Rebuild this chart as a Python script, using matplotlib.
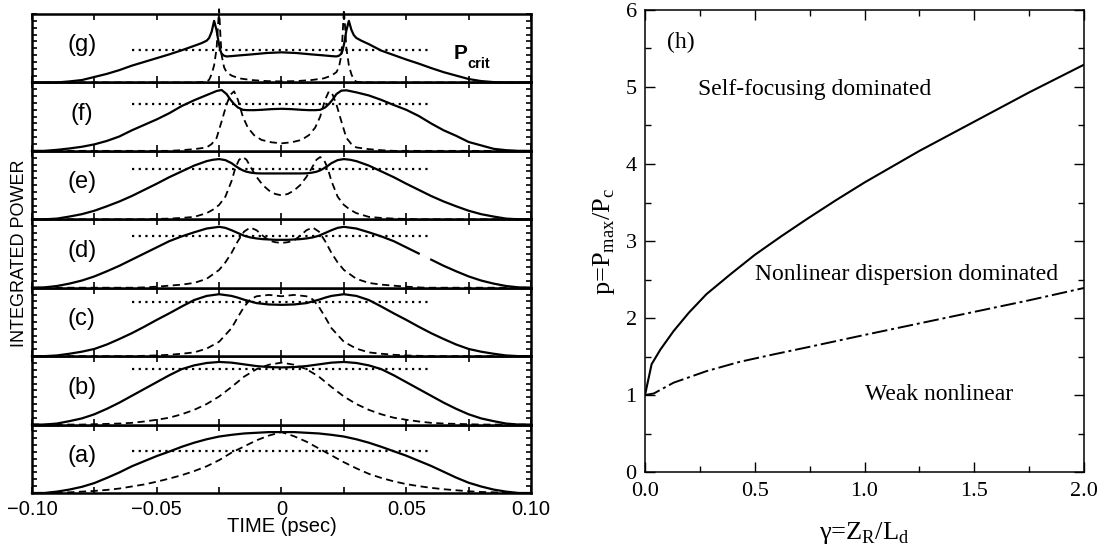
import numpy as np
import matplotlib
matplotlib.use("Agg")
import matplotlib.pyplot as plt
from matplotlib.ticker import FixedLocator, FixedFormatter, MultipleLocator, FormatStrFormatter

nan = np.nan

# ---------- panels (a)-(g): integrated power vs time ----------
panel_names = ["(a)", "(b)", "(c)", "(d)", "(e)", "(f)", "(g)"]
pcrit_level = [0.62, 0.816, 0.79, 0.755, 0.735, 0.68, 0.48]
pcrit_time = [-0.06, 0.06]
time_ticks = [-0.10, -0.075, -0.05, -0.025, 0.0, 0.025, 0.05, 0.075, 0.10]
time_tick_labels = ["\u22120.10", "", "\u22120.05", "", "0", "", "0.05", "", "0.10"]

t_ab = [-0.100, -0.095, -0.090, -0.085, -0.080, -0.075, -0.070, -0.065, -0.060, -0.055,
        -0.050, -0.045, -0.040, -0.035, -0.030, -0.025, -0.020, -0.015, -0.010, -0.005,
        0.000, 0.005, 0.010, 0.015, 0.020, 0.025, 0.030, 0.035, 0.040, 0.045, 0.050,
        0.055, 0.060, 0.065, 0.070, 0.075, 0.080, 0.085, 0.090, 0.095, 0.100]
solid_a = [0.0, 0.0, 0.02, 0.05, 0.09, 0.145, 0.22, 0.30, 0.39, 0.465,
           0.54, 0.605, 0.675, 0.735, 0.785, 0.825, 0.85, 0.87, 0.88, 0.89,
           0.89, 0.89, 0.88, 0.87, 0.85, 0.825, 0.785, 0.735, 0.675, 0.61, 0.545,
           0.47, 0.395, 0.31, 0.225, 0.15, 0.095, 0.05, 0.02, 0.0, 0.0]
dashed_a = [0.0, 0.0, 0.005, 0.01, 0.02, 0.03, 0.045, 0.065, 0.095, 0.125,
            0.165, 0.21, 0.26, 0.32, 0.39, 0.48, 0.59, 0.68, 0.77, 0.84,
            0.89, 0.83, 0.75, 0.65, 0.55, 0.45, 0.36, 0.28, 0.22, 0.17, 0.13,
            0.10, 0.075, 0.055, 0.04, 0.025, 0.015, 0.01, 0.005, 0.0, 0.0]
solid_b = [0.0, 0.0, 0.015, 0.05, 0.09, 0.15, 0.23, 0.32, 0.42, 0.52,
           0.62, 0.72, 0.81, 0.865, 0.90, 0.915, 0.905, 0.88, 0.855, 0.84,
           0.835, 0.84, 0.855, 0.88, 0.905, 0.915, 0.90, 0.865, 0.81, 0.72, 0.62,
           0.52, 0.42, 0.32, 0.23, 0.15, 0.09, 0.05, 0.015, 0.0, 0.0]
dashed_b = [0.0, 0.0, 0.0, 0.0, 0.0, 0.005, 0.01, 0.015, 0.025, 0.045,
            0.07, 0.10, 0.15, 0.215, 0.30, 0.41, 0.55, 0.70, 0.81, 0.875,
            0.905, 0.875, 0.81, 0.70, 0.55, 0.41, 0.30, 0.215, 0.15, 0.10, 0.07,
            0.045, 0.025, 0.015, 0.01, 0.005, 0.0, 0.0, 0.0, 0.0, 0.0]

t_c = [-0.100, -0.095, -0.090, -0.085, -0.080, -0.075, -0.070, -0.065, -0.060, -0.055,
       -0.050, -0.045, -0.040, -0.035, -0.030, -0.025, -0.020, -0.0175, -0.015, -0.0125,
       -0.010, -0.005, 0.000, 0.005, 0.010, 0.0125, 0.015, 0.0175, 0.020, 0.025,
       0.030, 0.035, 0.040, 0.045, 0.050, 0.055, 0.060, 0.065, 0.070, 0.075,
       0.080, 0.085, 0.090, 0.095, 0.100]
solid_c = [0.0, 0.0, 0.01, 0.035, 0.065, 0.105, 0.17, 0.25, 0.335, 0.43,
           0.53, 0.625, 0.725, 0.82, 0.88, 0.905, 0.88, 0.855, 0.825, 0.80,
           0.775, 0.755, 0.75, 0.755, 0.775, 0.80, 0.825, 0.855, 0.88, 0.905,
           0.88, 0.82, 0.725, 0.625, 0.53, 0.43, 0.335, 0.25, 0.17, 0.105,
           0.065, 0.035, 0.01, 0.0, 0.0]
dashed_c = [0.0, 0.0, 0.0, 0.0, 0.0, 0.0, 0.0, 0.0, 0.0, 0.005,
            0.01, 0.02, 0.035, 0.055, 0.11, 0.21, 0.41, 0.57, 0.72, 0.83,
            0.875, 0.895, 0.875, 0.895, 0.875, 0.83, 0.72, 0.57, 0.41, 0.21,
            0.11, 0.055, 0.035, 0.02, 0.01, 0.005, 0.0, 0.0, 0.0, 0.0,
            0.0, 0.0, 0.0, 0.0, 0.0]

t_d = [-0.100, -0.095, -0.090, -0.085, -0.080, -0.075, -0.070, -0.065, -0.060, -0.055,
       -0.050, -0.045, -0.040, -0.035, -0.030, -0.025, -0.0225, -0.020, -0.0175, -0.015,
       -0.0125, -0.010, -0.0075, -0.005, -0.0025, 0.000, 0.0025, 0.005, 0.0075, 0.010,
       0.0125, 0.015, 0.0175, 0.020, 0.0225, 0.025, 0.030, 0.035, 0.040, 0.045,
       0.050, 0.055, 0.0575, 0.060, 0.065, 0.070, 0.075, 0.080, 0.085, 0.090,
       0.095, 0.100]
solid_d = [0.0, 0.005, 0.025, 0.06, 0.105, 0.165, 0.24, 0.32, 0.41, 0.50,
           0.59, 0.68, 0.75, 0.81, 0.865, 0.89, 0.875, 0.84, 0.80, 0.76,
           0.735, 0.72, 0.71, 0.705, 0.70, 0.70, 0.70, 0.705, 0.71, 0.72,
           0.735, 0.76, 0.80, 0.84, 0.875, 0.89, 0.865, 0.81, 0.75, 0.68,
           0.59, 0.50, nan, 0.41, 0.32, 0.24, 0.165, 0.105, 0.06, 0.025,
           0.005, 0.0]
dashed_d = [0.0, 0.0, 0.0, 0.0, 0.0, 0.0, 0.0, 0.0, 0.0, 0.005,
            0.015, 0.03, 0.045, 0.07, 0.13, 0.26, 0.37, 0.51, 0.68, 0.82,
            0.88, 0.84, 0.76, 0.69, 0.665, 0.655, 0.665, 0.69, 0.76, 0.84,
            0.88, 0.82, 0.68, 0.51, 0.37, 0.26, 0.13, 0.07, 0.045, 0.03,
            0.015, 0.005, 0.0, 0.0, 0.0, 0.0, 0.0, 0.0, 0.0, 0.0,
            0.0, 0.0]

t_e = [-0.100, -0.095, -0.090, -0.085, -0.080, -0.075, -0.070, -0.065, -0.060, -0.055,
       -0.050, -0.045, -0.040, -0.035, -0.030, -0.0275, -0.025, -0.0225, -0.020, -0.0185,
       -0.017, -0.0155, -0.014, -0.012, -0.010, -0.0075, -0.005, -0.0025, 0.000,
       0.0025, 0.005, 0.0075, 0.010, 0.012, 0.014, 0.0155, 0.017, 0.0185, 0.020,
       0.0225, 0.025, 0.0275, 0.030, 0.035, 0.040, 0.045, 0.050, 0.055, 0.060,
       0.065, 0.070, 0.075, 0.080, 0.085, 0.090, 0.095, 0.100]
solid_e = [0.0, 0.0, 0.01, 0.04, 0.075, 0.125, 0.19, 0.26, 0.34, 0.43,
           0.52, 0.615, 0.70, 0.785, 0.85, 0.87, 0.88, 0.865, 0.82, 0.78,
           0.745, 0.715, 0.695, 0.68, 0.672, 0.67, 0.67, 0.67, 0.67,
           0.67, 0.67, 0.67, 0.672, 0.68, 0.695, 0.715, 0.745, 0.78, 0.82,
           0.865, 0.88, 0.87, 0.85, 0.785, 0.70, 0.615, 0.52, 0.43, 0.34,
           0.26, 0.19, 0.125, 0.075, 0.04, 0.01, 0.0, 0.0]
dashed_e = [0.0, 0.0, 0.0, 0.0, 0.0, 0.0, 0.0, 0.0, 0.0, 0.0,
            0.005, 0.01, 0.02, 0.035, 0.09, 0.14, 0.21, 0.33, 0.56, 0.75,
            0.87, 0.91, 0.87, 0.74, 0.62, 0.50, 0.42, 0.37, 0.35,
            0.37, 0.42, 0.50, 0.62, 0.74, 0.87, 0.91, 0.87, 0.75, 0.56,
            0.33, 0.21, 0.14, 0.09, 0.035, 0.02, 0.01, 0.005, 0.0, 0.0,
            0.0, 0.0, 0.0, 0.0, 0.0, 0.0, 0.0, 0.0]

t_f = [-0.100, -0.095, -0.090, -0.085, -0.080, -0.075, -0.070, -0.065, -0.060, -0.055,
       -0.050, -0.045, -0.040, -0.035, -0.030, -0.028, -0.026, -0.024, -0.022, -0.0205,
       -0.019, -0.0175, -0.0155, -0.0135, -0.011, -0.008, -0.004, 0.000,
       0.004, 0.008, 0.011, 0.0135, 0.0155, 0.0175, 0.019, 0.0205, 0.022, 0.024,
       0.026, 0.028, 0.030, 0.035, 0.040, 0.045, 0.050, 0.055, 0.060, 0.065,
       0.070, 0.075, 0.080, 0.085, 0.090, 0.095, 0.100]
solid_f = [0.0, 0.0, 0.015, 0.035, 0.06, 0.095, 0.145, 0.21, 0.30, 0.38,
           0.46, 0.55, 0.655, 0.74, 0.815, 0.845, 0.875, 0.89, 0.83, 0.75,
           0.685, 0.635, 0.60, 0.595, 0.595, 0.60, 0.61, 0.615,
           0.61, 0.60, 0.595, 0.595, 0.60, 0.635, 0.685, 0.75, 0.83, 0.88,
           0.885, 0.87, 0.855, 0.81, 0.745, 0.67, 0.60, 0.51, 0.40, 0.30,
           0.22, 0.13, 0.08, 0.03, 0.01, 0.0, 0.0]
dashed_f = [0.0, 0.0, 0.0, 0.0, 0.0, 0.0, 0.0, 0.0, 0.0, 0.0,
            0.0, 0.0, 0.01, 0.025, 0.05, 0.10, 0.19, 0.43, 0.68, 0.82,
            0.87, 0.75, 0.50, 0.34, 0.23, 0.16, 0.125, 0.11,
            0.125, 0.16, 0.23, 0.34, 0.50, 0.75, 0.87, 0.82, 0.68, 0.43,
            0.19, 0.10, 0.05, 0.025, 0.01, 0.0, 0.0, 0.0, 0.0, 0.0,
            0.0, 0.0, 0.0, 0.0, 0.0, 0.0, 0.0]

t_g = [-0.100, -0.095, -0.090, -0.085, -0.080, -0.075, -0.070, -0.065, -0.060, -0.055,
       -0.050, -0.045, -0.040, -0.035, -0.032, -0.030, -0.029, -0.028, -0.027, -0.026,
       -0.0255, -0.025, -0.0245, -0.024, -0.023, -0.022, -0.020, -0.017, -0.012, -0.006,
       0.000,
       0.006, 0.012, 0.017, 0.020, 0.022, 0.023, 0.024, 0.0245, 0.025, 0.0255,
       0.026, 0.027, 0.028, 0.029, 0.030, 0.032, 0.035, 0.040, 0.045, 0.050,
       0.055, 0.060, 0.065, 0.070, 0.075, 0.080, 0.085, 0.090, 0.095, 0.100]
solid_g = [0.0, 0.0, 0.0, 0.015, 0.035, 0.08, 0.125, 0.18, 0.245, 0.30,
           0.355, 0.41, 0.47, 0.535, 0.575, 0.61, 0.65, 0.74, 0.90, 0.76,
           0.65, 0.55, 0.47, 0.42, 0.39, 0.38, 0.385, 0.395, 0.41, 0.43,
           0.44,
           0.43, 0.41, 0.395, 0.385, 0.38, 0.39, 0.42, 0.47, 0.55, 0.65,
           0.76, 0.90, 0.77, 0.69, 0.65, 0.61, 0.56, 0.465, 0.40, 0.335,
           0.275, 0.21, 0.15, 0.10, 0.05, 0.02, 0.005, 0.0, 0.0, 0.0]
dashed_g = [0.0, 0.0, 0.0, 0.0, 0.0, 0.0, 0.0, 0.0, 0.0, 0.0,
            0.0, 0.0, 0.0, 0.0, 0.005, 0.01, 0.04, 0.12, 0.25, 0.50,
            0.80, 1.07, 0.70, 0.40, 0.22, 0.15, 0.10, 0.06, 0.035, 0.02,
            0.015,
            0.02, 0.035, 0.06, 0.10, 0.15, 0.22, 0.40, 0.70, 1.07, 0.80,
            0.50, 0.25, 0.12, 0.04, 0.01, 0.005, 0.0, 0.0, 0.0, 0.0,
            0.0, 0.0, 0.0, 0.0, 0.0, 0.0, 0.0, 0.0, 0.0, 0.0]

# ---------- panel (h): regime boundaries ----------
gamma_sf = [0.0, 0.03, 0.07, 0.13, 0.20, 0.28, 0.39, 0.50, 0.62, 0.74, 0.87, 1.00, 1.25, 1.50, 1.75, 2.00]
p_sf = [1.0, 1.40, 1.59, 1.83, 2.07, 2.31, 2.57, 2.82, 3.06, 3.29, 3.53, 3.76, 4.17, 4.55, 4.93, 5.29]
gamma_nd = [0.0, 0.04, 0.13, 0.28, 0.43, 0.59, 0.74, 0.87, 1.00, 1.25, 1.50, 1.75, 2.00]
p_nd = [1.0, 1.02, 1.16, 1.31, 1.43, 1.53, 1.62, 1.70, 1.78, 1.93, 2.08, 2.23, 2.39]


def dibujar_pulsos(fig):
    """Seven stacked panels sharing the time axis."""
    sans = "Liberation Sans"
    left, width = 0.0288, 0.4496
    bottom, top = 0.1069, 0.9746
    h = (top - bottom) / 7
    datos = [(t_ab, solid_a, dashed_a), (t_ab, solid_b, dashed_b), (t_c, solid_c, dashed_c),
             (t_d, solid_d, dashed_d), (t_e, solid_e, dashed_e), (t_f, solid_f, dashed_f),
             (t_g, solid_g, dashed_g)]
    for i, (t, s, d) in enumerate(datos):
        ax = fig.add_axes([left, bottom + i * h, width, h])
        ax.plot(t, s, color="black", lw=1.6, clip_on=False)
        ax.plot(t, d, color="black", lw=1.3, dashes=(4, 2.5), clip_on=False)
        ax.plot(pcrit_time, [pcrit_level[i], pcrit_level[i]], color="black", lw=1.6, dashes=(1, 2))
        ax.set_xlim(-0.1, 0.1)
        ax.set_ylim(0, 1)
        ax.xaxis.set_major_locator(FixedLocator(time_ticks))
        ax.yaxis.set_major_locator(MultipleLocator(0.1))
        ax.tick_params(direction="in", top=True, right=True, width=1.2, labelleft=False)
        ax.tick_params(axis="x", length=4.5)
        ax.tick_params(axis="y", length=3.5)
        if i == 0:
            ax.xaxis.set_major_formatter(FixedFormatter(time_tick_labels))
            ax.tick_params(axis="x", labelsize=14.5, pad=5, labelfontfamily=sans)
        else:
            ax.tick_params(labelbottom=False)
        for sp in ax.spines.values():
            sp.set_linewidth(1.8)
        ax.text(-0.08, 0.54, panel_names[i], fontsize=17, family=sans, ha="center", va="center")
        if i == 6:
            ax.text(0.0688, 0.42, "P", fontsize=15, fontweight="bold", family=sans, ha="left", va="center")
            ax.text(0.0745, 0.27, "crit", fontsize=10.5, fontweight="bold", family=sans, ha="left", va="center")
    fig.text(282 / 1110, 1 - 527 / 552, "TIME (psec)", fontsize=14.5, family=sans, ha="center", va="center")
    fig.text(20 / 1110, 1 - 253 / 552, "INTEGRATED POWER", fontsize=13, family=sans,
             rotation=90, ha="center", va="center")


def dibujar_regimenes(fig):
    """Panel (h): p versus gamma."""
    serif = "Liberation Serif"
    ax = fig.add_axes([0.5811, 0.1449, 0.3955, 0.837])
    ax.plot(gamma_sf, p_sf, color="black", lw=1.5)
    ax.plot(gamma_nd, p_nd, color="black", lw=1.4, dashes=(8, 2, 1.5, 2))
    ax.set_xlim(0, 2)
    ax.set_ylim(0, 6)
    ax.xaxis.set_major_locator(MultipleLocator(0.5))
    ax.xaxis.set_minor_locator(MultipleLocator(0.25))
    ax.yaxis.set_major_locator(MultipleLocator(1))
    ax.yaxis.set_minor_locator(MultipleLocator(0.5))
    ax.xaxis.set_major_formatter(FormatStrFormatter("%.1f"))
    ax.yaxis.set_major_formatter(FormatStrFormatter("%d"))
    ax.tick_params(which="both", direction="in", top=True, right=True, width=1.0,
                   labelsize=16, labelfontfamily=serif)
    ax.tick_params(which="major", length=7)
    ax.tick_params(which="minor", length=4)
    ax.tick_params(axis="x", pad=7)
    ax.tick_params(axis="y", pad=6)
    for sp in ax.spines.values():
        sp.set_linewidth(1.1)
    ax.set_xlabel("\u03b3=Z$_\\mathregular{R}$/L$_\\mathregular{d}$", fontsize=19, family=serif, labelpad=14)
    ax.set_ylabel("p=P$_\\mathregular{max}$/P$_\\mathregular{c}$", fontsize=19, family=serif, labelpad=6)
    ax.text(0.10, 5.51, "(h)", fontsize=17, family=serif, ha="left", va="baseline")
    ax.text(0.24, 4.90, "Self-focusing dominated", fontsize=17, family=serif, ha="left", va="baseline")
    ax.text(0.50, 2.49, "Nonlinear dispersion dominated", fontsize=17, family=serif, ha="left", va="baseline")
    ax.text(1.00, 0.935, "Weak nonlinear", fontsize=17, family=serif, ha="left", va="baseline")


fig = plt.figure(figsize=(11.1, 5.52), dpi=100)
dibujar_pulsos(fig)
dibujar_regimenes(fig)
fig.savefig("out.png", dpi=100)
